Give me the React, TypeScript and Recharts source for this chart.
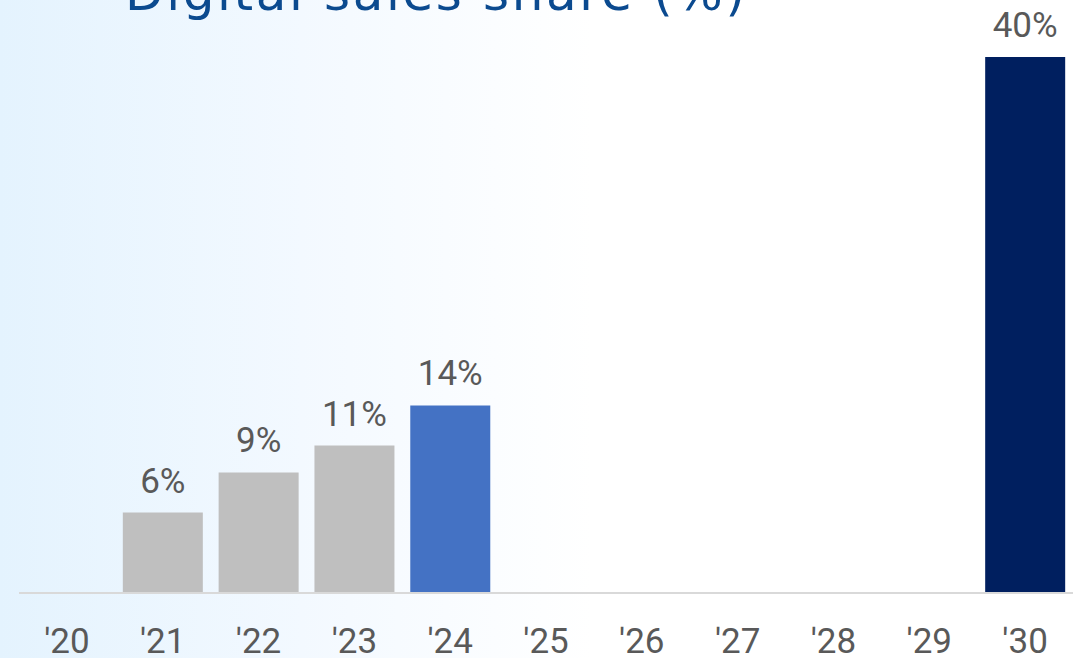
import React from 'react';
import { BarChart, Bar, XAxis, YAxis, Cell, LabelList } from 'recharts';

const years = ["'20", "'21", "'22", "'23", "'24", "'25", "'26", "'27", "'28", "'29", "'30"];
const digitalShare: (number | null)[] = [null, 6, 9, 11, 14, null, null, null, null, null, 40];
const title = 'Digital sales share (%)';

const GRAY = '#bfbfbf';
const BLUE = '#4472c4';
const NAVY = '#001f5f';
const TEXT = '#595959';
const NARROW = '"Liberation Sans Narrow", "Arial Narrow", "Roboto", sans-serif';

const data = years.map((year, i) => ({ year, share: digitalShare[i] }));

function barColor(year: string) {
  if (year === "'24") return BLUE;
  if (year === "'30") return NAVY;
  return GRAY;
}

function YearTick(props: any) {
  const { x, y, payload } = props;
  return (
    <text x={x} y={y + 60} textAnchor="middle" fill={TEXT} fontSize={35} fontFamily={NARROW}>
      {payload.value}
    </text>
  );
}

export default function App() {
  return (
    <div
      style={{
        position: 'relative',
        width: 1076,
        height: 658,
        overflow: 'hidden',
        background: 'linear-gradient(to right, #e4f3fe 0%, #f3f9ff 28%, #ffffff 55%)',
      }}
    >
      <style>{'body{margin:0}'}</style>
      <svg width={1076} height={60} style={{ position: 'absolute', left: 0, top: 0 }}>
        <text
          x={125}
          y={10}
          fill="#0b4a8f"
          fontSize={50}
          fontFamily="'DejaVu Sans', 'Open Sans', sans-serif"
          textLength={620}
          lengthAdjust="spacing"
        >
          {title}
        </text>
      </svg>
      <BarChart
        width={1076}
        height={658}
        data={data}
        margin={{ top: 57, right: 3, bottom: 0, left: 19 }}
        style={{ position: 'absolute', left: 0, top: 0 }}
      >
        <XAxis
          dataKey="year"
          height={65}
          tickLine={false}
          tickSize={0}
          tickMargin={0}
          axisLine={{ stroke: '#d9d9d9', strokeWidth: 2 }}
          tick={<YearTick />}
          interval={0}
        />
        <YAxis hide domain={[0, 40]} />
        <Bar dataKey="share" barSize={80} isAnimationActive={false}>
          {data.map((d) => (
            <Cell key={d.year} fill={barColor(d.year)} />
          ))}
          <LabelList
            dataKey="share"
            position="top"
            offset={20}
            fill={TEXT}
            fontSize={35}
            fontFamily={NARROW}
            formatter={(v: any) => (v == null ? '' : `${v}%`)}
          />
        </Bar>
      </BarChart>
    </div>
  );
}
